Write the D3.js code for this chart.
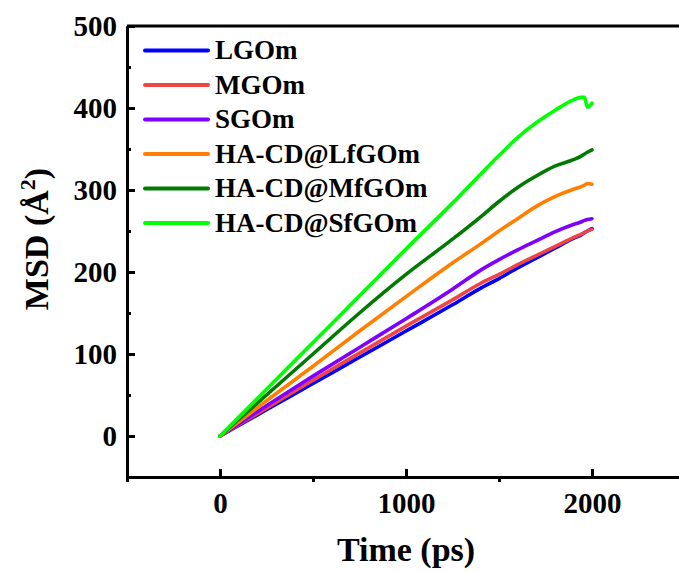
<!DOCTYPE html>
<html>
<head>
<meta charset="utf-8">
<script src="https://cdn.jsdelivr.net/npm/d3@7"></script>
<style>
  html, body { margin: 0; padding: 0; background: #fff; }
  svg { display: block; }
  svg text { font-family: "Liberation Serif", "Times New Roman", "DejaVu Serif", serif !important; font-weight: 700; fill: #000; }
</style>
</head>
<body>
<svg id="chart" width="679" height="572"></svg>
<script>
// Simulation time points (ps)
const timePs = [0, 250, 500, 750, 1000, 1250, 1400, 1500, 1600, 1700, 1800, 1900, 1940, 1960, 1975, 2000];

// Mean square displacement (Å²) for each membrane
const lgom      = [0, 32, 64, 96, 128, 160, 180, 192, 205, 217, 229, 241, 245, 248, 250, 253];
const mgom      = [0, 34, 68, 101, 134, 166, 186, 197, 209, 220, 231, 242, 246, 248, 250, 252];
const sgom      = [0, 37, 73, 108, 143, 179, 202, 215, 227, 238, 249, 258, 261, 263, 264, 265];
const haLfgom   = [0, 43, 85, 128, 170, 211, 234, 250, 265, 280, 292, 301, 304, 306, 308, 307];
const haMfgom   = [0, 50, 100, 150, 197, 240, 267, 286, 303, 317, 329, 337, 341, 344, 346, 349];
const haSfgom   = [0, 57, 114, 171, 228, 284, 319, 342, 364, 382, 397, 410, 413, 413, 401, 406];

const seriesNames  = ["LGOm", "MGOm", "SGOm", "HA-CD@LfGOm", "HA-CD@MfGOm", "HA-CD@SfGOm"];
const seriesValues = [lgom, mgom, sgom, haLfgom, haMfgom, haSfgom];
const seriesColors = ["#0000ff", "#f04545", "#8000ff", "#ff8000", "#007a00", "#00ff00"];

// Axis ticks
const xMajorTicks = [0, 1000, 2000];
const xMinorTicks = [-500, 500, 1500, 2500];
const yMajorTicks = [0, 100, 200, 300, 400, 500];
const yMinorTicks = [-50, 50, 150, 250, 350, 450];

const FONT = "'Liberation Serif', 'Times New Roman', 'DejaVu Serif', serif";

const svg = d3.select("#chart");

const x = d3.scaleLinear().domain([-500, 2500]).range([127, 685]);
const y = d3.scaleLinear().domain([-50, 500]).range([477, 26]);

// Series lines
const line = d3.line()
  .x((d, i) => x(timePs[i]))
  .y(d => y(d))
  .curve(d3.curveMonotoneX);

seriesValues.forEach((vals, k) => {
  svg.append("path")
    .datum(vals)
    .attr("d", line)
    .attr("fill", "none")
    .attr("stroke", seriesColors[k])
    .attr("stroke-width", 3.6)
    .attr("stroke-linejoin", "round")
    .attr("stroke-linecap", "round");
});

// Frame: top edge
svg.append("line")
  .attr("x1", x.range()[0]).attr("x2", x.range()[1])
  .attr("y1", y.range()[1]).attr("y2", y.range()[1])
  .attr("stroke", "#000").attr("stroke-width", 3);

function styleAxis(g) {
  g.attr("font-family", FONT);
  g.select(".domain").attr("stroke", "#000").attr("stroke-width", 3);
  g.selectAll(".tick line").attr("stroke", "#000").attr("stroke-width", 3);
}

// Y axis
const yMajor = svg.append("g")
  .attr("transform", `translate(${x.range()[0]},0)`)
  .call(d3.axisLeft(y).tickValues(yMajorTicks).tickFormat(d3.format("d"))
    .tickSize(-8).tickSizeOuter(0).tickPadding(10));
styleAxis(yMajor);
yMajor.selectAll(".tick text")
  .attr("font-size", 29)
  .attr("dy", "0.34em");

const yMinor = svg.append("g")
  .attr("transform", `translate(${x.range()[0]},0)`)
  .call(d3.axisLeft(y).tickValues(yMinorTicks).tickSize(-4).tickSizeOuter(0).tickFormat(""));
styleAxis(yMinor);

// X axis
const xMajor = svg.append("g")
  .attr("transform", `translate(0,${y.range()[0]})`)
  .call(d3.axisBottom(x).tickValues(xMajorTicks).tickFormat(d3.format("d"))
    .tickSize(-8).tickSizeOuter(0).tickPadding(15));
styleAxis(xMajor);
xMajor.selectAll(".tick text")
  .attr("font-size", 29)
  .attr("dy", "0.71em");

const xMinor = svg.append("g")
  .attr("transform", `translate(0,${y.range()[0]})`)
  .call(d3.axisBottom(x).tickValues(xMinorTicks).tickSize(5).tickSizeOuter(0).tickFormat(""));
styleAxis(xMinor);

// Axis titles
svg.append("text")
  .attr("x", x(1000)).attr("y", 561)
  .attr("text-anchor", "middle")
  .attr("font-family", FONT)
  .attr("font-size", 34)
  .text("Time (ps)");

const yTitle = svg.append("text")
  .attr("transform", "translate(48,239) rotate(-90)")
  .attr("text-anchor", "middle")
  .attr("font-family", FONT)
  .attr("font-size", 34);
yTitle.append("tspan").text("MSD (Å");
yTitle.append("tspan").attr("font-size", 22).attr("dy", -13).text("2");
yTitle.append("tspan").attr("dy", 13).text(")");

// Legend
const legend = svg.append("g").attr("font-family", FONT);
seriesNames.forEach((name, k) => {
  const ly = 50.5 + k * 34.5;
  legend.append("line")
    .attr("x1", 145).attr("x2", 208)
    .attr("y1", ly).attr("y2", ly)
    .attr("stroke", seriesColors[k])
    .attr("stroke-width", 4)
    .attr("stroke-linecap", "round");
  legend.append("text")
    .attr("x", 215).attr("y", ly)
    .attr("dy", "0.33em")
    .attr("font-size", 27)
    .text(name);
});
</script>
</body>
</html>
